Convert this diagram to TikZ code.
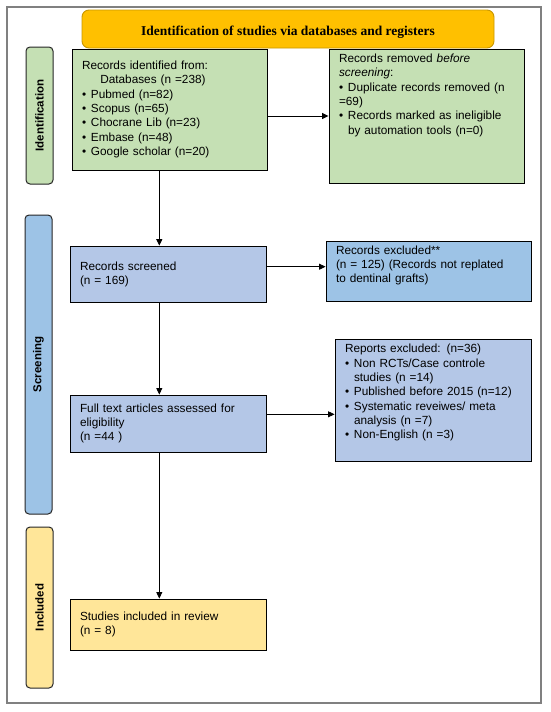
\documentclass[tikz,border=0pt]{standalone}
\usepackage{fontspec}
\setmainfont{Liberation Sans}
\newfontfamily\titlefont{Liberation Serif}
\usetikzlibrary{arrows.meta,calc}
\definecolor{boxgreen}{HTML}{C5E0B4}
\definecolor{boxblue}{HTML}{B4C7E7}
\definecolor{boxbluedark}{HTML}{9DC3E6}
\definecolor{boxyellow}{HTML}{FFE699}
\definecolor{titleorange}{HTML}{FFC000}
\definecolor{titleborder}{HTML}{C99700}
\definecolor{framegray}{HTML}{808080}
\newcommand{\bulit}{\makebox[9pt][l]{•}}
\newcommand{\indt}{\hspace*{9pt}}
\tikzset{
  x=1pt, y=-1pt,
  stdbox/.style={draw=black, line width=0.9pt, align=left, inner xsep=10pt, inner ysep=0pt,
    font=\fontsize{11.8}{14.3}\selectfont},
  boxtext/.style={stdbox, draw=none, fill=none, anchor=north west},
  sidelab/.style={draw=black!85, line width=1pt, rounded corners=4pt, inner sep=0pt,
    rotate=90, minimum height=27pt, font=\bfseries\fontsize{11.5}{13}\selectfont},
  titlebox/.style={draw=titleborder, fill=titleorange, line width=0.9pt, rounded corners=7pt,
    inner sep=0pt},
  titletext/.style={font=\titlefont\bfseries\fontsize{13.5}{16}\selectfont, inner sep=0pt, anchor=base},
  arr/.style={draw=black, line width=0.9pt, -{Triangle[length=6.5pt,width=6pt]}},
  framebox/.style={draw=framegray, line width=1.4pt}
}
\begin{document}
\begin{tikzpicture}
\useasboundingbox[fill=white] (0,0) rectangle (550,712);
\draw[framebox] (7,7) rectangle (541,703);

% title
\node[titlebox, minimum width=412pt, minimum height=38pt] (title) at (288,29) {};
\node[titletext] (titletxt) at (288,35.5) {Identification of studies via databases and registers};

% side labels
\node[sidelab, fill=boxgreen, minimum width=137pt] (idlab) at (39.5,115.5) {Identification};
\node[sidelab, fill=boxbluedark, minimum width=299pt] (scrlab) at (38.5,364.5) {Screening};
\node[sidelab, fill=boxyellow, minimum width=161pt] (inclab) at (39.5,607.5) {Included};

% boxes
\node[stdbox, fill=boxgreen, text width=175pt, minimum height=121pt] (recid) at (169.5,109.5)
 {Records identified from:\\
  \hspace*{18.3pt}Databases (n =238)\\
  \bulit Pubmed (n=82)\\
  \bulit Scopus (n=65)\\
  \bulit Chocrane Lib (n=23)\\
  \bulit Embase (n=48)\\
  \bulit Google scholar (n=20)};

\node[stdbox, fill=boxgreen, text width=175pt, minimum height=134pt] (recrm) at (426.5,116) {};
\node[boxtext, text width=175pt] (recrmtxt) at ($(recrm.north west)+(0,5)$)
 {Records removed \textit{before}\\
  \textit{screening}:\\
  \bulit Duplicate records removed (n\\
  =69)\\
  \bulit Records marked as ineligible\\
  \indt by automation tools (n=0)};

\node[stdbox, fill=boxblue, text width=176pt, minimum height=56.7pt] (screened) at (168,274.4)
 {Records screened\\(n = 169)};

\node[stdbox, fill=boxbluedark, text width=185pt, minimum height=59.3pt] (excl) at (428.5,271.4) {};
\node[boxtext, text width=185pt] (excltxt) at ($(excl.north west)+(0,4)$)
 {Records excluded**\\
  (n = 125) (Records not replated\\
  to dentinal grafts)};

\node[stdbox, fill=boxblue, text width=176pt, minimum height=57pt] (fulltext) at (168,423.5)
 {Full text articles assessed for\\
  eligibility\\
  (n =44 )};

\node[stdbox, fill=boxblue, text width=176pt, minimum height=122.4pt] (reports) at (433,400.5) {};
\node[boxtext, text width=176pt] (reportstxt) at ($(reports.north west)+(0,5)$)
 {Reports excluded: (n=36)\\
  \bulit Non RCTs/Case controle\\
  \indt studies (n =14)\\
  \bulit Published before 2015 (n=12)\\
  \bulit Systematic reveiwes/ meta\\
  \indt analysis (n =7)\\
  \bulit Non-English (n =3)};

\node[stdbox, fill=boxyellow, text width=176pt, minimum height=51pt] (studies) at (168,624.5)
 {Studies included in review\\(n = 8)};

% connector guides
\coordinate (ax) at (159.3,0);
\coordinate (ay1) at (0,116);
\coordinate (ay2) at (0,266.7);
\coordinate (ay3) at (0,414.3);

\draw[arr] (recid.south -| ax) -- (screened.north -| ax);
\draw[arr] (screened.south -| ax) -- (fulltext.north -| ax);
\draw[arr] (fulltext.south -| ax) -- (studies.north -| ax);
\draw[arr] (recid.east |- ay1) -- (recrm.west |- ay1);
\draw[arr] (screened.east |- ay2) -- (excl.west |- ay2);
\draw[arr] (fulltext.east |- ay3) -- (reports.west |- ay3);
\end{tikzpicture}
\end{document}
